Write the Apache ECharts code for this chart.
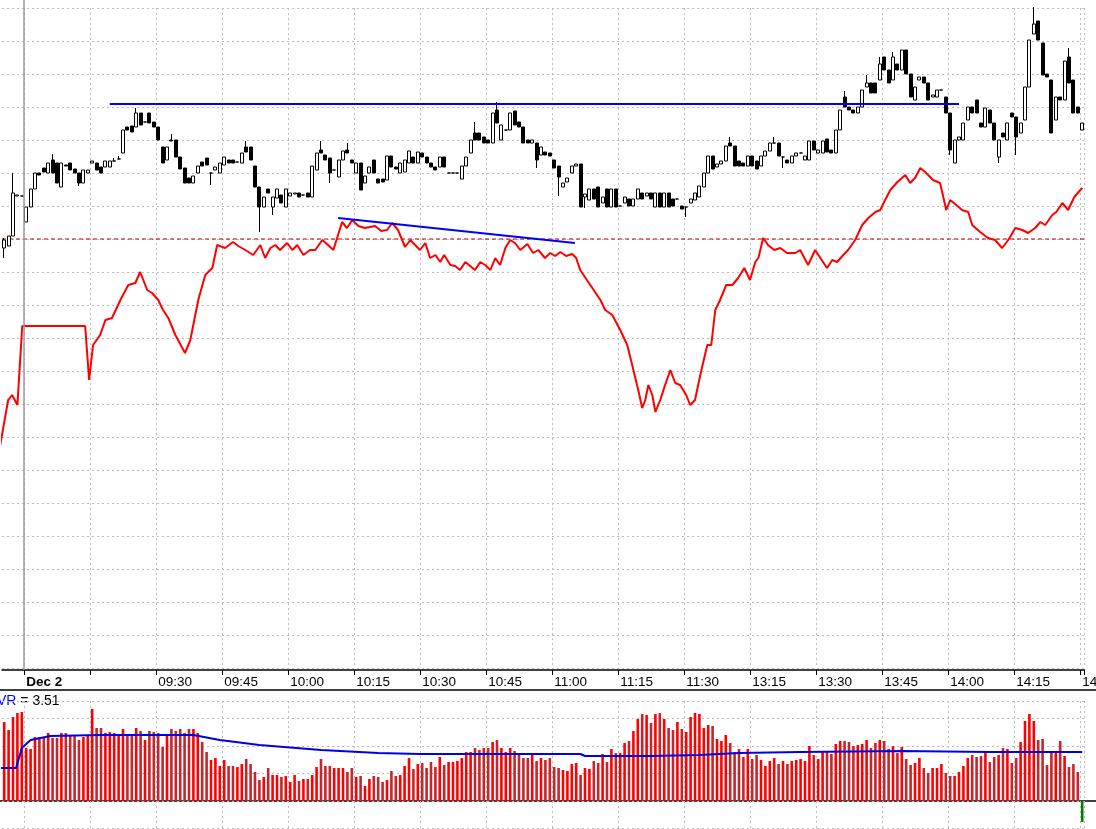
<!DOCTYPE html>
<html lang="en">
<head>
  <meta charset="UTF-8">
  <title>Dec 2 intraday</title>
  <style>html,body{margin:0;padding:0;background:#fff;}</style>
</head>
<body>
<div id="main" style="width:1096px;height:829px;"></div>
<script src="https://cdn.jsdelivr.net/npm/echarts@6/dist/echarts.min.js"></script>
<script type="text/javascript">
  // one-minute bars, price in chart units
  const opens = [452,454,464,504,504,478,493,511,527,532,527,540,537,513,535,537,531,527,517,527,537,537,533,533,533,539,541,547,573,574,
    573,587,578,587,578,573,553,540,560,560,543,532,522,517,527,538,542,527,530,527,535,540,540,538,537,553,553,534,513,493,
    511,493,502,505,493,504,506,507,505,507,503,530,550,545,542,530,523,540,550,540,527,537,517,527,540,521,521,520,544,533,
    527,528,537,543,537,547,543,537,533,533,543,527,527,527,521,534,547,567,567,563,560,557,590,560,570,570,589,578,573,560,
    557,557,545,548,547,540,534,513,518,527,534,536,503,500,511,513,497,511,493,511,494,497,501,494,501,507,504,507,493,507,
    493,507,501,501,494,493,497,500,503,513,527,544,533,536,539,557,554,539,537,534,544,539,534,544,549,557,557,543,540,537,
    544,547,540,540,559,547,547,561,550,547,570,603,593,590,587,593,613,617,617,620,643,630,620,636,630,650,626,600,620,623,
    617,603,603,610,603,587,537,560,560,580,593,600,577,573,590,577,543,567,560,587,583,567,580,613,666,679,657,626,620,580,
    603,600,643,620,593,570]
  const closes = [460,464,507,505,504,493,511,527,525,528,537,527,517,537,534,530,527,517,530,530,539,530,527,539,539,539,541,570,570,568,
    587,575,578,577,573,560,537,553,559,543,531,517,517,524,534,534,535,527,533,537,543,537,537,538,547,548,540,513,493,503,
    507,503,511,497,511,507,507,503,505,503,534,547,547,540,527,530,540,549,547,537,537,510,524,533,527,517,518,544,533,531,
    537,540,549,537,548,543,537,533,530,543,533,527,527,527,534,543,560,560,560,557,557,587,577,575,570,587,575,573,557,557,
    560,540,553,545,544,532,523,517,522,534,536,493,506,511,501,493,503,493,511,493,494,503,494,501,511,501,507,501,507,493,
    507,493,494,501,491,493,501,507,514,527,544,531,536,539,554,554,534,534,534,544,534,531,544,549,557,557,544,543,537,544,
    547,547,544,559,550,550,559,548,547,570,590,593,590,587,593,610,617,607,607,636,630,617,643,630,650,626,603,613,623,617,
    600,605,610,610,587,550,560,563,577,593,587,587,573,592,577,560,560,563,577,583,563,577,613,660,676,660,625,623,567,603,
    600,639,617,587,587,577]
  // wick ends that reach past the body
  const highs = {0:462, 2:527, 11:546, 25:542, 26:544, 30:592, 38:566, 55:559, 72:559, 78:557, 107:578, 112:598,
    165:563, 175:563, 191:609, 196:625, 199:643, 202:648, 234:693, 242:652}
  const lows = {0:442, 17:514, 47:515, 58:468, 61:485, 74:517, 121:532, 126:504, 132:492, 155:483, 177:532,
    215:545, 226:537, 230:545}

  // red indicator line: [bar, value]
  const redLine = [[-0.9,255],[0.9,300],[1.8,305],[3,295],[4.1,374],[18.4,374],[19.3,320],[20.2,355],[21.8,365],[23,380],
    [24.5,382],[26.4,400],[28.2,415],[29.8,417],[30.9,428],[32.5,410],[33.6,407],[35,400],[36.1,390],[37.3,382],
    [38.9,365],[41.1,347],[42.3,360],[44.1,400],[45.7,425],[47.3,432],[48.4,455],[50.2,452],[52,458],[53.2,454],
    [54.8,450],[56.6,445],[58.2,455],[59.3,442],[60.5,452],[61.6,455],[62.7,450],[64.3,457],[65.5,450],[66.6,455],
    [68,445],[69.5,450],[70.7,450],[72.3,460],[73.6,455],[74.8,450],[76.8,478],[77.9,472],[79.1,480],[80.5,474],
    [82,472],[84.3,474],[85.7,469],[87,470],[88.2,477],[89.5,470],[91.1,453],[92.3,460],[93.4,455],[94.5,450],
    [95.7,457],[96.8,442],[98,445],[99.1,438],[100,445],[101.4,435],[102.5,434],[103.6,430],[104.8,438],[105.9,434],
    [107,430],[108.2,438],[109.3,435],[110.5,430],[111.6,442],[112.7,435],[113.9,452],[115,460],[116.1,457],[117.3,450],
    [118.9,456],[120.2,447],[121.4,450],[122.9,442],[124.1,447],[125.2,444],[126.4,448],[127.7,444],[129.1,446],[130,442],
    [130.9,430],[133.2,415],[135.5,400],[136.6,390],[138.2,385],[140,370],[141.6,355],[143,330],[144.1,310],[145,292],
    [145.7,300],[146.4,315],[147.3,305],[148,288],[149.1,300],[150.2,315],[151.4,330],[152.5,317],[153.6,315],[155,305],
    [155.9,295],[157,300],[158.2,325],[159.8,355],[160.7,355],[161.6,390],[162.7,400],[164.1,415],[165.5,415],[166.8,422],
    [168.2,432],[169.5,420],[170.7,438],[171.4,442],[172.5,462],[173.6,455],[175,450],[176.4,452],[177.9,447],[179.8,447],
    [180.9,450],[182.7,435],[184.3,450],[185.5,442],[187,432],[188.2,440],[189.3,438],[190.7,445],[191.8,450],[193.4,460],
    [195,475],[196.4,482],[198,488],[199.1,490],[200.2,500],[201.4,510],[203,518],[204.8,525],[205.9,517],[207,522],
    [208.2,532],[209.3,528],[211.1,520],[212.7,517],[214.1,490],[215,500],[216.4,495],[217.7,490],[219.1,488],[220,475],
    [221.8,468],[223.6,462],[225.2,460],[226.8,452],[228.2,460],[229.8,472],[231.4,470],[232.7,467],[234.3,472],[235.5,478],
    [236.6,475],[238.2,485],[239.1,488],[240.5,497],[241.8,490],[243.2,503],[245,512]]

  const volumes = [79,71,84,88,89,53,52,64,64,64,68,63,63,68,68,65,65,61,64,65,92,73,73,68,69,68,65,72,65,66,
    73,70,61,70,69,68,54,67,72,70,72,68,72,72,68,59,49,41,43,35,41,35,35,34,37,42,37,29,21,24,
    33,26,26,24,25,19,26,20,22,22,26,34,42,35,35,33,33,33,29,33,24,25,15,22,25,24,19,21,30,25,
    26,35,43,32,37,38,33,39,34,44,36,39,39,40,43,49,49,53,51,53,53,59,61,53,49,53,50,47,43,43,
    47,40,43,41,43,34,33,31,30,37,38,26,33,32,40,38,47,39,52,48,48,58,60,70,82,87,86,78,87,88,
    82,73,71,79,72,69,84,88,87,73,76,75,62,60,66,58,49,52,44,52,42,46,41,35,40,43,37,40,37,
    40,41,42,40,55,46,42,49,49,47,57,60,60,59,55,56,57,61,53,58,61,60,52,55,48,54,42,36,38,43,
    33,28,33,33,37,28,25,25,29,35,43,46,44,45,48,39,44,46,53,52,38,43,59,80,87,80,61,62,36,49,
    49,60,45,34,37,29,-21]
  // volume average: [bar, value]
  const volAvg = [[-1,33],[2.7,33],[4,53],[6,61],[10.5,65],[22,66],[43,66],[49,61],[58,56],[72,51],[85,48],[94.5,47],
    [131,47],[132,45],[147,45],[158,46],[167,48],[181,49],[204,50],[224,49],[245,49]]

  const topTrend = [[24,596],[217,596]]
  const slopeTrend = [[75.9,482],[129.7,457]]
  const refLevel = 461

  const tickAt = [5,35,50,65,80,95,110,125,140,155,170,185,200,215,230,245]
  const tickText = ['Dec 2','09:30','09:45','10:00','10:15','10:30','10:45','11:00','11:15','11:30','13:15','13:30','13:45','14:00','14:15','14:30']
  const gridAt = [5,20,35,50,65,80,95,110,125,140,155,170,185,200,215,230,245]

  const n = opens.length
  const cats = opens.map((v, i) => i)
  const candles = opens.map((o, i) => {
    const c = closes[i]
    return [o, c, lows[i] != null ? lows[i] : Math.min(o, c), highs[i] != null ? highs[i] : Math.max(o, c)]
  })
  const volData = volumes.map((v, i) => ({
    value: v,
    itemStyle: {color: v < 0 ? '#008000' : (closes[i] < opens[i] ? '#c4262b' : '#ff0000')}
  }))

  const L = 2, W = 4.4 * n
  const dotted = {show: true, lineStyle: {color: '#bdbdbd', type: [2, 3], width: 1}}
  const vSplit = {show: true, interval: (i) => gridAt.indexOf(i) >= 0, lineStyle: {color: '#bdbdbd', type: [2, 3], width: 1}}
  const font = 'Arial, "Liberation Sans", sans-serif'

  const Chart = echarts.init(document.getElementById('main'))
  const option = {
    animation: false,
    backgroundColor: '#fff',
    grid: [
      {left: L, width: W, top: 0, height: 670, outerBoundsMode: 'none', containLabel: false},
      {left: L, width: W, top: 8, height: 660, outerBoundsMode: 'none', containLabel: false},
      {left: L, width: W, top: 701, height: 127.5, outerBoundsMode: 'none', containLabel: false}
    ],
    xAxis: [
      {type: 'category', gridIndex: 0, data: cats, boundaryGap: true,
        axisLine: {lineStyle: {color: '#000', width: 1.5}},
        axisTick: {show: true, interval: (i) => gridAt.indexOf(i) >= 0, length: 5, lineStyle: {color: '#000'}},
        axisLabel: {interval: (i) => tickAt.indexOf(i) >= 0, align: 'left', margin: 5, color: '#000',
          fontFamily: font, fontSize: 13.5, hideOverlap: false,
          formatter: (v, i) => {
            const k = tickAt.indexOf(i)
            if (k < 0) return ''
            return k === 0 ? '{b|' + tickText[k] + '}' : tickText[k]
          },
          rich: {b: {fontWeight: 'bold', fontSize: 13.5, fontFamily: font, color: '#000'}}},
        splitLine: {show: false}},
      {type: 'value', gridIndex: 0, min: -0.5, max: n - 0.5, show: false},
      {type: 'category', gridIndex: 1, data: cats, boundaryGap: true, axisLine: {show: false},
        axisTick: {show: false}, axisLabel: {show: false}, splitLine: vSplit},
      {type: 'category', gridIndex: 2, data: cats, boundaryGap: true, position: 'bottom',
        axisLine: {show: false}, axisTick: {show: false}, axisLabel: {show: false}, splitLine: vSplit},
      {type: 'value', gridIndex: 2, min: -0.5, max: n - 0.5, show: false}
    ],
    yAxis: [
      {type: 'value', gridIndex: 0, min: 30, max: 700, show: false, splitLine: {show: false}},
      {type: 'value', gridIndex: 1, min: 0, max: 660, interval: 33, axisLine: {show: false},
        axisTick: {show: false}, axisLabel: {show: false}, splitLine: dotted},
      {type: 'value', gridIndex: 2, min: -27.5, max: 100, interval: 27.5, axisLine: {show: false},
        axisTick: {show: false}, axisLabel: {show: false}, splitLine: dotted}
    ],
    graphic: [
      {type: 'line', shape: {x1: 0, y1: 690, x2: 1096, y2: 690}, style: {stroke: '#000', lineWidth: 1.5}},
      {type: 'line', shape: {x1: 0, y1: 801, x2: 1096, y2: 801}, style: {stroke: '#000', lineWidth: 1.5}},
      {type: 'text', left: -3, top: 694, style: {
        text: '{v|VR} = 3.51', font: '14px Arial', fill: '#000',
        rich: {v: {fill: '#0000ff', font: '14px Arial'}}}}
    ],
    series: [
      {type: 'line', xAxisIndex: 1, yAxisIndex: 0, data: [[-0.5, refLevel], [n - 0.5, refLevel]],
        symbol: 'none', lineStyle: {color: '#c00000', width: 1, type: [4, 3]}, z: 2,
        markLine: {silent: true, symbol: 'none', label: {show: false},
          lineStyle: {color: '#9a9a9a', type: 'solid', width: 1.5}, data: [{xAxis: 4.5}]}},
      {type: 'line', xAxisIndex: 1, yAxisIndex: 0, data: redLine, symbol: 'none',
        lineStyle: {color: '#ff0000', width: 2}, z: 3},
      {type: 'candlestick', xAxisIndex: 0, yAxisIndex: 0, data: candles, barWidth: 3.6, clip: false, z: 4,
        itemStyle: {color: '#fff', color0: '#000', borderColor: '#000', borderColor0: '#000',
          borderColorDoji: '#000', borderWidth: 1}},
      {type: 'line', xAxisIndex: 1, yAxisIndex: 0, data: topTrend, symbol: 'none',
        lineStyle: {color: '#0000ff', width: 2}, z: 5},
      {type: 'line', xAxisIndex: 1, yAxisIndex: 0, data: slopeTrend, symbol: 'none',
        lineStyle: {color: '#0000ff', width: 2}, z: 5},
      {type: 'bar', xAxisIndex: 3, yAxisIndex: 2, data: volData, barWidth: 2.6, z: 3},
      {type: 'line', xAxisIndex: 4, yAxisIndex: 2, data: volAvg, symbol: 'none',
        lineStyle: {color: '#0000e6', width: 2}, z: 5}
    ]
  }

  Chart.setOption(option)
</script>
</body>
</html>
